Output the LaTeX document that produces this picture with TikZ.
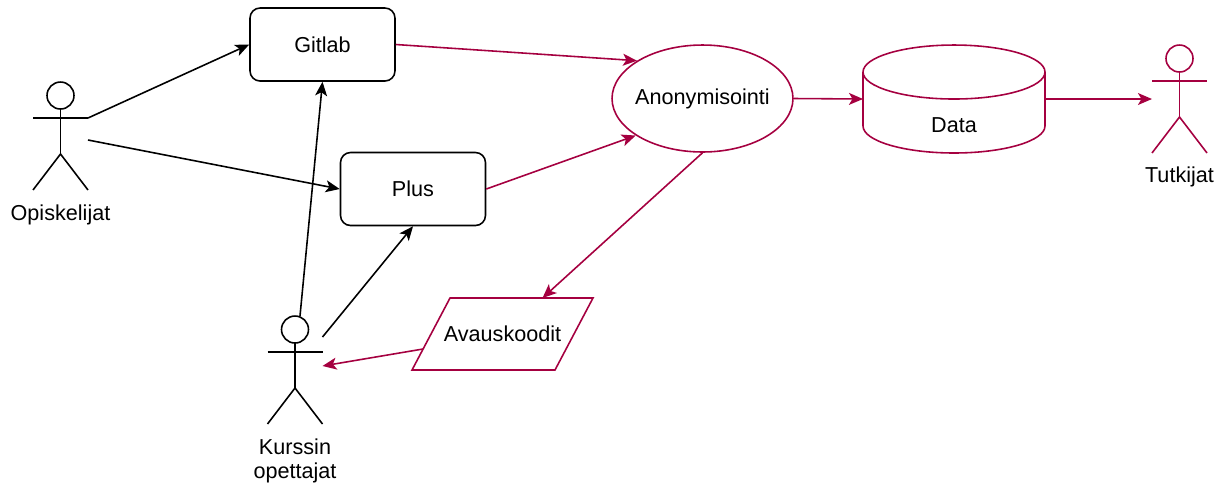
\documentclass[tikz,border=0pt]{standalone}
\usepackage{fontspec}
\setmainfont{Liberation Sans}
\usetikzlibrary{shapes.geometric,arrows.meta}
\definecolor{anonred}{HTML}{A50040}
\begin{document}
\begin{tikzpicture}[x=0.02cm, y=-0.02cm,
    every node/.style={font=\fontsize{12.3}{13.8}\selectfont},
    line/.style={line width=0.9pt},
    flow/.style={line, -{Stealth[length=8pt, width=6.8pt, inset=2pt]}},
    redflow/.style={flow, color=anonred},
    box/.style={draw, line, rounded corners=0.2cm, minimum width=2.9cm, minimum height=1.46cm},
    actor/.style={minimum width=1.1cm, minimum height=2.16cm, inner sep=0pt, outer sep=0pt}]
  \useasboundingbox (0,0) rectangle (1224,485);
  % boxes
  \node[box] (gitlab) at (322.5,44.5) {Gitlab};
  \node[box] (plus) at (413,189) {Plus};
  \node[draw=anonred, line, ellipse, inner sep=0pt, minimum width=3.62cm, minimum height=2.14cm] (anon) at (702.5,98.5) {\makebox[0pt]{Anonymisointi}};
  \node[minimum width=3.64cm, minimum height=2.16cm, inner sep=0pt, outer sep=0pt] (data) at (954,99) {};
  \node (datatext) at (954,125) {Data};
  \node[minimum width=3.62cm, minimum height=1.44cm, inner sep=0pt, outer sep=0pt] (avaus) at (502.5,334) {Avauskoodit};
  % actors
  \node[actor] (opis) at (60.5,136) {};
  \node[actor] (kurs) at (295,370) {};
  \node[actor] (tutk) at (1179.5,99) {};
  \node (opislabel) at (60.5,215) {Opiskelijat};
  \node[align=center] (kurslabel) at (295,461) {Kurssin\\opettajat};
  \node (tutklabel) at (1179.5,177) {Tutkijat};
  \foreach \who/\col in {opis/black, kurs/black, tutk/anonred} {
    \draw[line, \col] (\who.north) ++(0,13.5) circle[radius=0.27cm];
    \draw[line, \col] (\who.north west) ++(0,36) -- ++(55,0);
    \draw[line, \col] (\who.north) ++(0,27) -- ++(0,45);
    \draw[line, \col] (\who.south west) -- ++(27.5,-36) -- ++(27.5,36);
  }
  % cylinder and parallelogram
  \draw[line, anonred] (data.north) ++(0,27) ellipse[x radius=1.82cm, y radius=0.54cm];
  \draw[line, anonred] ([yshift=-0.54cm]data.north west) -- ([yshift=0.54cm]data.south west)
    arc[start angle=180, end angle=360, x radius=1.82cm, y radius=0.54cm] -- ([yshift=-0.54cm]data.north east);
  \draw[line, anonred] (avaus.south west) -- ([xshift=0.76cm]avaus.north west) -- (avaus.north east)
    -- ([xshift=-0.76cm]avaus.south east) -- cycle;
  % arrows
  \draw[flow] ([yshift=-0.72cm]opis.north east) -- (gitlab.west);
  \draw[flow] ([yshift=-0.08cm]opis.east) -- (plus.west);
  \draw[flow] ([xshift=0.1cm]kurs.north) -- (gitlab.south);
  \draw[flow] ([yshift=0.66cm]kurs.east) -- (plus.south);
  \draw[redflow] (gitlab.east) -- (anon.150);
  \draw[redflow] (plus.east) -- (anon.209);
  \draw[redflow] (anon.south) -- ([xshift=0.8cm]avaus.north);
  \draw[redflow] ([shift={(0.22cm,-0.3cm)}]avaus.west) -- ([yshift=0.08cm]kurs.east);
  \draw[redflow] (anon.east) -- (data.west);
  \draw[redflow] (data.east) -- (tutk.west);
\end{tikzpicture}
\end{document}
